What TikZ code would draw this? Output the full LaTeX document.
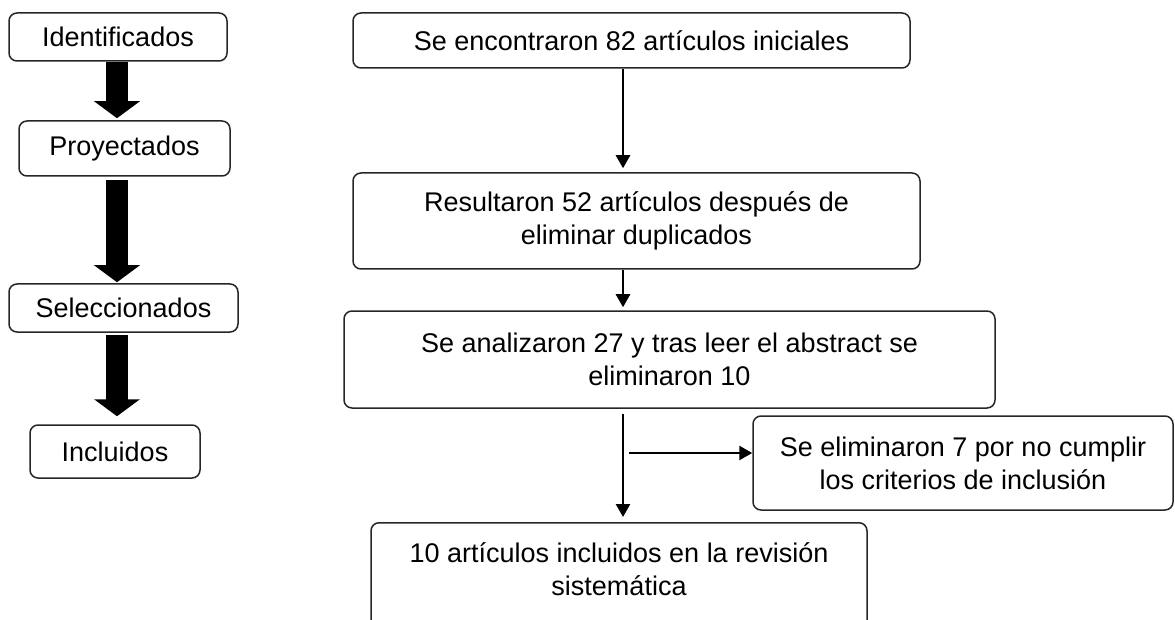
\documentclass[tikz,border=0pt]{standalone}
\usepackage{fontspec}
\setmainfont{Liberation Sans}
\usetikzlibrary{arrows.meta,calc}
\begin{document}
\begin{tikzpicture}[x=1pt,y=-1pt,
  box/.style={draw=black!85, line width=1.5pt, rounded corners=8pt, inner sep=0pt,
    align=center, font=\fontsize{27}{33}\selectfont},
  bigarrow/.style={line width=22pt, -{Triangle[width=45pt,length=17pt]}},
  thinarrow/.style={line width=2.6pt, -{Triangle[width=14pt,length=13pt]}}]
\useasboundingbox (0,0) rectangle (1175,620);
% left column
\node[box, minimum width=218pt, minimum height=48pt] (id) at (118,37) {Identificados};
\node[box, minimum width=211pt, minimum height=55pt] (pr) at (124.5,148.5) {Proyectados};
\node[box, minimum width=229pt, minimum height=48pt] (se) at (123.5,308) {Seleccionados};
\node[box, minimum width=170pt, minimum height=53pt] (in) at (115,451.5) {Incluidos};
\coordinate (ax) at (117,0);
\draw[bigarrow] (id.south -| ax) -- ([yshift=2pt]pr.north -| ax);
\draw[bigarrow] ([yshift=-3pt]pr.south -| ax) -- ([yshift=1pt]se.north -| ax);
\draw[bigarrow] ([yshift=-2pt]se.south -| ax) -- ([yshift=8pt]in.north -| ax);
% right column
\node[box, minimum width=557pt, minimum height=55pt] (b1) at (631.5,40.5) {Se encontraron 82 artículos iniciales};
\node[box, minimum width=567pt, minimum height=96pt] (b2) at (636.5,221) {Resultaron 52 artículos después de\\eliminar duplicados};
\node[box, minimum width=651pt, minimum height=97pt] (b3) at (669.5,359.5) {Se analizaron 27 y tras leer el abstract se\\eliminaron 10};
\node[box, minimum width=420pt, minimum height=94pt] (b4) at (963,463) {Se eliminaron 7 por no cumplir\\los criterios de inclusión};
\node[box, anchor=north] (b5) at (619,522) {\parbox[t][125pt][t]{496pt}{\centering\vspace{20pt}10 artículos incluidos en la revisión\\sistemática}};
\coordinate (cx) at (623,0);
\coordinate (hs) at (629,453);
\draw[thinarrow] (b1.south -| cx) -- ([yshift=4pt]b2.north -| cx);
\draw[thinarrow] (b2.south -| cx) -- ([yshift=3pt]b3.north -| cx);
\draw[thinarrow] ([yshift=-5pt]b3.south -| cx) -- ([yshift=5pt]b5.north -| cx);
\draw[thinarrow] (hs) -- (b4.west |- hs);
\end{tikzpicture}
\end{document}
